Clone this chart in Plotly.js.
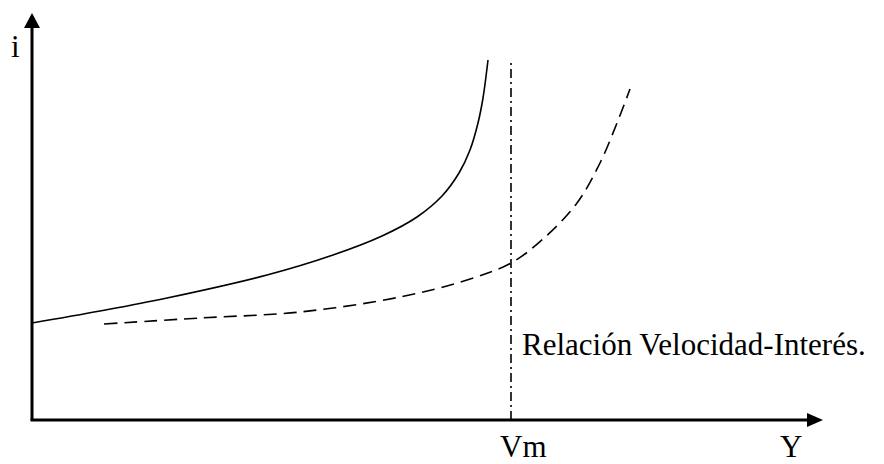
<!DOCTYPE html>
<html>
<head>
<meta charset="utf-8">
<script src="https://cdn.plot.ly/plotly-3.0.1.min.js"></script>
<style>html,body{margin:0;padding:0;background:#fff;}#chart{width:884px;height:464px;}</style>
</head>
<body>
<div id="chart"></div>
<script>
// Solid curve (baseline relation)
const solidX = [0, 68, 135, 235, 301, 350, 385, 410, 427, 438, 446, 451, 456];
const solidY = [97, 109, 122, 145, 165, 184, 203, 224, 247, 270, 297, 322, 360];
// Dashed curve (shifted relation)
const dashX = [72, 168, 268, 368, 435, 479, 511, 545, 568, 585, 598];
const dashY = [96, 102, 108, 123, 140, 157, 181, 217, 257, 297, 331];
// Vertical reference Vm
const vmX = 479;
const vmTop = 360;
// Axis extents
const xAxisEnd = 791;
const yAxisEnd = 407;
// Labels
const labelY = "i";
const labelX = "Y";
const labelVm = "Vm";
const caption = "Relación Velocidad-Interés.";

const font = {family: "Liberation Serif, Times New Roman, serif", size: 31, color: "#000"};

const traces = [
  {x: solidX, y: solidY, mode: "lines", line: {color: "#000", width: 1.6, shape: "spline", smoothing: 1}, hoverinfo: "skip"},
  {x: dashX, y: dashY, mode: "lines", line: {color: "#000", width: 1.6, dash: "13px,7px", shape: "spline", smoothing: 1}, hoverinfo: "skip"},
  {x: [vmX, vmX], y: [0, vmTop], mode: "lines", line: {color: "#000", width: 1.6, dash: "9px,4px,2px,4px"}, hoverinfo: "skip"}
];

const shapes = [
  {type: "line", xref: "x", yref: "y", x0: 0, y0: 0, x1: 0, y1: yAxisEnd - 14, line: {color: "#000", width: 3}},
  {type: "line", xref: "x", yref: "y", x0: -1.5, y0: 0, x1: xAxisEnd - 15, y1: 0, line: {color: "#000", width: 3}},
  {type: "path", xref: "x", yref: "y", path: `M 0 ${yAxisEnd} L -8 ${yAxisEnd-15} L 8 ${yAxisEnd-15} Z`, fillcolor: "#000", line: {width: 0}},
  {type: "path", xref: "x", yref: "y", path: `M ${xAxisEnd} 0 L ${xAxisEnd-16} -7 L ${xAxisEnd-16} 7 Z`, fillcolor: "#000", line: {width: 0}}
];

const annotations = [
  {x: -17, y: 374, xref: "x", yref: "y", text: labelY, showarrow: false, font: font},
  {x: 759, y: -26, xref: "x", yref: "y", text: labelX, showarrow: false, font: font},
  {x: vmX + 12, y: -26, xref: "x", yref: "y", text: labelVm, showarrow: false, font: font},
  {x: vmX + 9, y: 76, xref: "x", yref: "y", text: caption, showarrow: false, xanchor: "left", font: font}
];

const layout = {
  width: 884, height: 464,
  margin: {l: 0, r: 0, t: 0, b: 0},
  paper_bgcolor: "#fff", plot_bgcolor: "#fff",
  showlegend: false,
  xaxis: {range: [-32, 852], visible: false, fixedrange: true},
  yaxis: {range: [-44, 420], visible: false, fixedrange: true},
  shapes: shapes,
  annotations: annotations
};

Plotly.newPlot("chart", traces, layout, {displayModeBar: false, staticPlot: true});
</script>
</body>
</html>
